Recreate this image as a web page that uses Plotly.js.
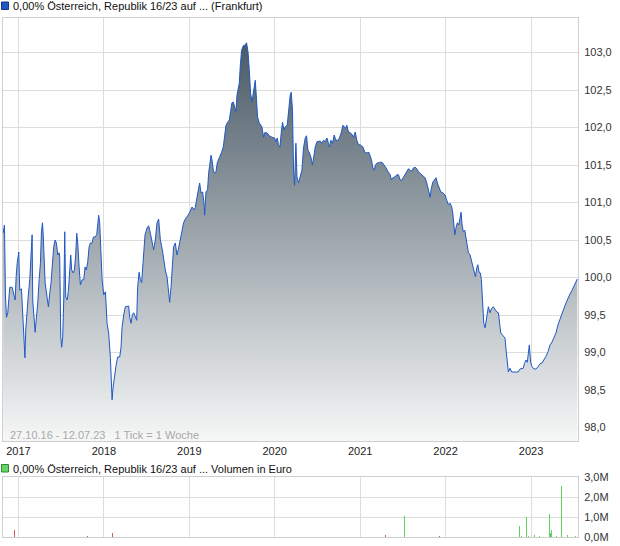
<!DOCTYPE html>
<html>
<head>
<meta charset="utf-8">
<script src="https://cdn.plot.ly/plotly-3.0.1.min.js"></script>
<style>
html,body{margin:0;padding:0;background:#fff;}
#chart{width:620px;height:546px;}
</style>
</head>
<body>
<div id="chart"></div>
<script>
// ---- Data (decimal years, weekly-ish readings) ----
const priceYears = [
2016.821,2016.836,2016.848,2016.860,2016.875,2016.887,2016.898,2016.926,2016.945,2016.961,2016.973,2016.985,
2017.004,2017.015,2017.035,2017.050,2017.064,2017.076,2017.085,2017.097,2017.113,2017.132,2017.144,2017.160,
2017.167,2017.187,2017.195,2017.207,2017.226,2017.242,2017.257,2017.269,2017.281,2017.289,2017.301,2017.312,
2017.336,2017.351,2017.366,2017.382,2017.398,2017.413,2017.429,2017.444,2017.460,2017.476,2017.483,2017.495,
2017.506,2017.518,2017.530,2017.542,2017.553,2017.570,2017.585,2017.600,2017.612,2017.623,2017.640,2017.655,
2017.670,2017.682,2017.694,2017.710,2017.725,2017.745,2017.764,2017.780,2017.795,2017.811,2017.827,2017.842,
2017.862,2017.877,2017.897,2017.916,2017.927,2017.939,2017.951,2017.959,
2017.979,2017.998,2018.018,2018.037,2018.056,2018.076,2018.088,2018.096,2018.108,2018.126,2018.143,2018.161,
2018.185,2018.201,2018.213,2018.232,2018.251,2018.290,2018.302,2018.318,2018.333,2018.349,2018.368,2018.384,
2018.395,2018.412,2018.427,2018.442,2018.458,2018.470,2018.482,2018.505,2018.524,2018.544,2018.564,2018.582,
2018.602,2018.622,2018.641,2018.661,2018.684,2018.699,2018.719,2018.739,2018.754,2018.770,2018.786,2018.801,
2018.816,2018.836,2018.856,2018.871,2018.895,2018.915,2018.933,2018.957,2018.980,2019.004,2019.032,2019.058,
2019.070,2019.090,2019.109,2019.121,2019.137,2019.156,2019.172,2019.179,2019.195,2019.214,2019.226,2019.242,
2019.254,2019.265,2019.281,2019.296,2019.312,2019.327,2019.343,2019.363,2019.378,2019.398,2019.413,2019.429,
2019.448,2019.468,2019.483,2019.499,2019.515,2019.530,2019.546,2019.558,2019.570,2019.585,2019.596,2019.612,
2019.632,2019.655,2019.670,2019.687,2019.702,2019.717,2019.733,2019.745,2019.757,2019.772,2019.787,2019.799,
2019.819,2019.850,2019.869,2019.881,2019.909,2019.936,2019.967,2019.998,2020.014,2020.029,2020.044,2020.061,
2020.076,2020.091,2020.108,2020.123,2020.146,2020.166,2020.181,2020.193,2020.208,2020.220,2020.232,2020.248,
2020.260,2020.278,
2020.298,2020.318,2020.337,2020.357,2020.372,2020.388,2020.407,2020.427,2020.442,2020.454,2020.474,2020.494,
2020.512,2020.532,2020.552,2020.571,2020.591,2020.611,2020.629,2020.641,2020.657,2020.676,2020.696,2020.716,
2020.739,2020.758,2020.778,2020.798,2020.813,2020.828,2020.844,2020.863,2020.883,2020.903,2020.922,2020.942,
2020.961,2020.980,2021.000,2021.032,2021.055,2021.078,2021.102,2021.117,2021.132,2021.149,2021.164,2021.179,
2021.202,2021.226,2021.242,2021.261,2021.281,2021.304,2021.327,2021.351,2021.366,2021.382,2021.406,2021.429,
2021.448,2021.468,2021.488,2021.506,2021.526,2021.546,2021.565,2021.585,2021.605,2021.623,2021.643,2021.663,
2021.682,2021.702,2021.722,2021.740,2021.760,2021.780,2021.799,2021.819,2021.830,2021.850,2021.869,2021.889,
2021.904,
2021.924,2021.944,2021.967,2021.994,2022.014,2022.033,2022.053,2022.072,2022.084,2022.096,2022.108,2022.123,
2022.138,2022.154,2022.170,2022.181,2022.193,2022.208,2022.225,2022.240,2022.251,2022.267,2022.287,2022.302,
2022.318,2022.333,2022.349,2022.365,2022.377,2022.392,2022.407,2022.419,2022.430,2022.439,2022.447,2022.462,
2022.482,2022.501,2022.520,2022.540,2022.559,2022.579,2022.599,2022.618,2022.629,2022.646,2022.669,2022.696,
2022.708,2022.723,2022.735,2022.754,2022.774,2022.801,2022.833,2022.851,2022.871,2022.891,2022.910,2022.922,
2022.942,2022.957,2022.968,2022.980,2022.996,2023.012,2023.035,2023.058,2023.082,2023.105,2023.129,2023.152,
2023.175,2023.199,2023.222,2023.246,2023.269,2023.292,2023.316,2023.339,2023.363,2023.386,2023.409,2023.433,
2023.456,2023.480,2023.503,2023.526,2023.542
];
const priceValues = [
100.59,100.70,99.74,99.47,99.53,99.73,99.87,99.87,99.79,99.70,100.01,100.19,
100.34,99.83,99.85,99.53,99.19,98.93,99.30,99.53,99.73,99.97,100.34,100.57,
99.70,99.41,99.27,99.43,99.66,99.97,100.19,100.61,100.73,100.59,100.19,99.93,
99.73,99.61,99.79,99.93,100.19,100.41,100.50,100.46,100.30,100.33,100.27,99.21,
99.07,99.21,99.70,100.61,99.74,99.70,99.83,100.14,100.30,100.10,100.06,100.10,
100.30,100.59,100.46,100.14,99.90,99.97,99.97,100.14,100.10,100.21,100.41,100.46,
100.46,100.54,100.54,100.57,100.70,100.83,100.73,100.46,
99.97,99.77,99.81,99.39,99.26,98.93,98.59,98.37,98.54,98.73,98.83,98.94,
98.94,99.07,99.34,99.50,99.61,99.62,99.47,99.39,99.50,99.53,99.46,99.43,
99.87,100.07,99.97,99.93,100.19,100.39,100.57,100.66,100.69,100.59,100.46,100.37,
100.50,100.73,100.78,100.50,100.37,100.23,100.10,100.01,99.86,99.67,99.87,100.14,
100.41,100.46,100.30,100.37,100.50,100.59,100.73,100.79,100.82,100.87,100.94,100.90,
100.93,101.07,101.21,101.26,101.13,101.14,100.99,100.83,101.14,101.17,101.39,101.54,
101.63,101.57,101.43,101.39,101.41,101.53,101.57,101.61,101.67,101.74,101.87,102.03,
102.07,102.10,102.21,102.33,102.34,102.27,102.21,102.43,102.50,102.59,102.81,103.03,
103.09,103.10,103.13,103.01,102.77,102.46,102.34,102.43,102.54,102.63,102.37,102.14,
102.06,102.01,101.87,101.93,101.93,101.89,101.87,101.86,101.81,101.86,101.77,101.74,
101.93,102.07,101.97,102.01,102.03,102.27,102.43,102.47,102.23,101.43,101.23,101.79,
101.34,101.26,
101.33,101.43,101.73,101.86,101.89,101.70,101.66,101.59,101.50,101.61,101.74,101.81,
101.81,101.82,101.79,101.83,101.81,101.86,101.79,101.74,101.83,101.79,101.90,101.83,
101.83,101.86,101.93,102.03,102.01,101.99,102.03,101.94,101.93,101.91,101.87,101.94,
101.83,101.77,101.77,101.74,101.67,101.66,101.67,101.61,101.57,101.46,101.43,101.50,
101.53,101.53,101.54,101.53,101.50,101.46,101.41,101.37,101.30,101.33,101.34,101.37,
101.37,101.30,101.30,101.34,101.37,101.41,101.45,101.43,101.42,101.46,101.47,101.45,
101.41,101.39,101.37,101.34,101.33,101.26,101.17,101.07,101.17,101.27,101.30,101.33,
101.26,
101.19,101.14,101.13,101.10,101.03,100.97,100.99,100.94,100.86,100.66,100.57,100.67,
100.73,100.70,100.81,100.87,100.70,100.61,100.63,100.54,100.43,100.33,100.30,100.23,
100.13,100.07,100.01,100.13,100.17,100.07,100.06,99.97,99.79,99.57,99.39,99.33,
99.46,99.61,99.53,99.59,99.61,99.57,99.54,99.53,99.41,99.26,99.23,99.19,
99.03,98.86,98.74,98.79,98.74,98.74,98.74,98.74,98.78,98.79,98.79,98.85,
98.90,98.87,98.97,99.10,98.87,98.81,98.78,98.78,98.81,98.85,98.86,98.90,
98.95,99.01,99.10,99.14,99.21,99.26,99.37,99.45,99.53,99.59,99.66,99.73,
99.78,99.83,99.89,99.94,99.98
];
// volume (Euro), split by bar colour in the reference
const volUpYears   = [2020.312,2021.389,2021.515,2022.813,2022.869,2022.887,2022.943,2022.971,2023.040,2023.104,2023.215,2023.229,2023.243,2023.257,2023.281,2023.303,2023.354,2023.428,2023.516];
const volUpValues  = [20000,20000,1030000,20000,530000,70000,1000000,50000,100000,30000,1130000,220000,360000,190000,100000,30000,2540000,100000,30000];
const volDownYears  = [2016.955,2017.811,2018.098,2021.297,2021.925,2022.046,2022.711];
const volDownValues = [360000,70000,200000,100000,70000,20000,20000];

const yearTicks = [2017,2018,2019,2020,2021,2022,2023];
const yearLabels = ['2017','2018','2019','2020','2021','2022','2023'];
const priceTicks = [98,98.5,99,99.5,100,100.5,101,101.5,102,102.5,103];
const volTicks = [0,1000000,2000000,3000000];
const volLabels = ['0,0M','1,0M','2,0M','3,0M'];

const legendMain = '0,00% Österreich, Republik 16/23 auf ... (Frankfurt)';
const legendVol  = '0,00% Österreich, Republik 16/23 auf ... Volumen in Euro';
const infoText   = '27.10.16 - 12.07.23&nbsp;&nbsp; 1 Tick = 1 Woche';

// ---- Layout helpers (pixel -> paper) ----
const W = 620, H = 546, ML = 3, MR = 42, MT = 18, MB = 9;
const PW = W - ML - MR, PH = H - MT - MB;
const px = x => (x - ML) / PW;
const py = y => (H - MB - y) / PH;

const FONT = 'Liberation Sans, Arial, sans-serif';
const GRID = '#dddddd', LINE = '#cfcfcf';

const traces = [
  {
    x: priceYears, y: priceValues, type: 'scatter', mode: 'lines',
    line: {color: '#1f58c6', width: 1},
    fill: 'tozeroy',
    fillgradient: {type: 'vertical', start: 97.82, stop: 103.13,
      colorscale: [[0, '#f6f7f7'], [1, '#4a5a66']]},
    xaxis: 'x', yaxis: 'y', hoverinfo: 'skip'
  },
  {
    x: volUpYears, y: volUpValues, type: 'bar', width: 0.011,
    marker: {color: '#5fd35f', line: {width: 0}},
    xaxis: 'x2', yaxis: 'y2', hoverinfo: 'skip'
  },
  {
    x: volDownYears, y: volDownValues, type: 'bar', width: 0.011,
    marker: {color: '#dd5555', line: {width: 0}},
    xaxis: 'x2', yaxis: 'y2', hoverinfo: 'skip'
  }
];

const xRange = [2016.819, 2023.55];
const layout = {
  width: W, height: H,
  margin: {l: ML, r: MR, t: MT, b: MB, pad: 0},
  paper_bgcolor: '#ffffff', plot_bgcolor: '#ffffff',
  showlegend: false,
  separators: ',.',
  font: {family: FONT, size: 11, color: '#222'},
  xaxis: {
    domain: [0, 1], anchor: 'y', range: xRange,
    tickvals: yearTicks, ticktext: yearLabels,
    showgrid: true, gridcolor: GRID, gridwidth: 1,
    showline: true, mirror: true, linecolor: LINE, linewidth: 1,
    ticks: '', zeroline: false, fixedrange: true,
    tickfont: {family: FONT, size: 11, color: '#222'}
  },
  yaxis: {
    domain: [py(441), 1], anchor: 'x', side: 'right',
    range: [97.82, 103.46],
    tickvals: priceTicks, tickformat: '.1f',
    showgrid: true, gridcolor: GRID, gridwidth: 1,
    showline: true, mirror: true, linecolor: LINE, linewidth: 1,
    ticks: '', zeroline: false, fixedrange: true, ticklabelstandoff: 3,
    tickfont: {family: FONT, size: 11, color: '#333'}
  },
  xaxis2: {
    domain: [0, 1], anchor: 'y2', range: xRange,
    tickvals: yearTicks, showticklabels: false,
    showgrid: true, gridcolor: GRID, gridwidth: 1,
    showline: true, mirror: true, linecolor: LINE, linewidth: 1,
    ticks: '', zeroline: false, fixedrange: true
  },
  yaxis2: {
    domain: [0, py(477)], anchor: 'x2', side: 'right',
    range: [0, 3000000],
    tickvals: volTicks, ticktext: volLabels,
    showgrid: true, gridcolor: GRID, gridwidth: 1,
    showline: true, mirror: true, linecolor: LINE, linewidth: 1,
    ticks: '', zeroline: false, fixedrange: true, ticklabelstandoff: 3,
    tickfont: {family: FONT, size: 11, color: '#333'}
  },
  bargap: 0,
  shapes: [
    {type: 'rect', xref: 'paper', yref: 'paper', x0: px(1.5), x1: px(8.5), y0: py(9.5), y1: py(2),
     fillcolor: '#1f58c6', line: {color: '#103a8a', width: 1}},
    {type: 'rect', xref: 'paper', yref: 'paper', x0: px(1.5), x1: px(8.5), y0: py(472), y1: py(464.5),
     fillcolor: '#66d466', line: {color: '#2f8a2f', width: 1}}
  ],
  annotations: [
    {xref: 'paper', yref: 'paper', x: px(11), y: py(6.5), xanchor: 'left', yanchor: 'middle',
     text: legendMain, showarrow: false, font: {family: FONT, size: 11, color: '#111'}},
    {xref: 'paper', yref: 'paper', x: px(11), y: py(468.5), xanchor: 'left', yanchor: 'middle',
     text: legendVol, showarrow: false, font: {family: FONT, size: 11, color: '#111'}},
    {xref: 'paper', yref: 'paper', x: px(7.5), y: py(435), xanchor: 'left', yanchor: 'middle',
     text: infoText, showarrow: false, font: {family: FONT, size: 11, color: '#a9a9a9'}}
  ]
};

Plotly.newPlot('chart', traces, layout, {displayModeBar: false, staticPlot: true});
</script>
</body>
</html>
